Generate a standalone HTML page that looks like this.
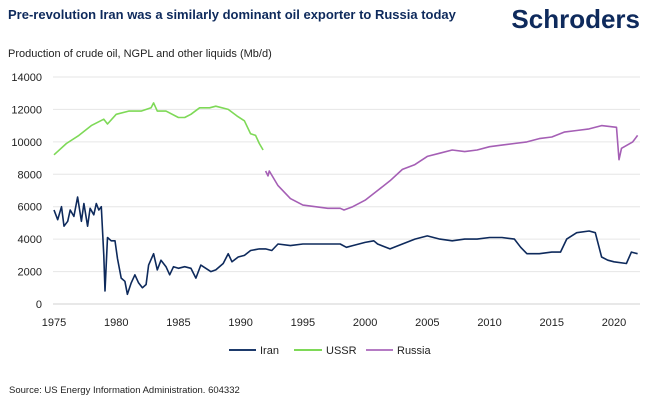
<!DOCTYPE html>
<html><head><meta charset="utf-8"><style>
body{margin:0;background:#fff;width:656px;height:406px;overflow:hidden;font-family:"Liberation Sans",sans-serif}
svg{display:block}
</style></head><body>
<svg width="656" height="406">
<text x="8" y="19" font-size="13" font-weight="bold" fill="#0e2a5c">Pre-revolution Iran was a similarly dominant oil exporter to Russia today</text>
<text x="640" y="28" text-anchor="end" font-size="26" font-weight="bold" fill="#0e2a5c">Schroders</text>
<text x="8" y="57" font-size="11" fill="#222">Production of crude oil, NGPL and other liquids (Mb/d)</text>
<g id="grid"></g><g id="yt"></g><g id="xt"></g><g id="series"></g>
<g>
<line x1="229" y1="350" x2="256" y2="350" stroke="#1d3a6b" stroke-width="2"/>
<text x="260" y="354" font-size="11" fill="#222">Iran</text>
<line x1="294" y1="350" x2="322" y2="350" stroke="#7ed957" stroke-width="2"/>
<text x="326" y="354" font-size="11" fill="#222">USSR</text>
<line x1="366" y1="350" x2="393" y2="350" stroke="#b57bc4" stroke-width="2"/>
<text x="397" y="354" font-size="11" fill="#222">Russia</text>
</g>
<text x="9" y="393" font-size="9.5" fill="#222">Source: US Energy Information Administration. 604332</text>
</svg>
<script>
const yTicks=[0,2000,4000,6000,8000,10000,12000,14000];
const xTicks=[1975,1980,1985,1990,1995,2000,2005,2010,2015,2020];
const iranYears=[1975,1975.3,1975.6,1975.8,1976.1,1976.3,1976.6,1976.9,1977.2,1977.4,1977.7,1977.9,1978.2,1978.4,1978.6,1978.8,1979.0,1979.1,1979.3,1979.6,1979.9,1980.1,1980.4,1980.7,1980.9,1981.2,1981.5,1981.8,1982.1,1982.4,1982.6,1983.0,1983.3,1983.6,1984.0,1984.3,1984.6,1985.0,1985.5,1986.0,1986.4,1986.8,1987.2,1987.6,1988.0,1988.6,1989.0,1989.3,1989.8,1990.3,1990.8,1991.5,1992.0,1992.5,1993.0,1994,1995,1996,1997,1998,1998.5,1999,2000,2000.7,2001,2002,2003,2004,2005,2006,2007,2008,2009,2010,2011,2012,2012.5,2013,2014,2015,2015.7,2016.2,2017,2018,2018.5,2019,2019.5,2020,2021,2021.4,2021.9];
const iranValues=[5800,5200,6000,4800,5100,5800,5400,6600,5100,6200,4800,5900,5500,6200,5800,6000,3000,800,4100,3900,3900,2800,1600,1400,600,1300,1800,1300,1000,1200,2400,3100,2100,2700,2300,1800,2300,2200,2300,2200,1600,2400,2200,2000,2100,2500,3100,2600,2900,3000,3300,3400,3400,3300,3700,3600,3700,3700,3700,3700,3500,3600,3800,3900,3700,3400,3700,4000,4200,4000,3900,4000,4000,4100,4100,4000,3500,3100,3100,3200,3200,4000,4400,4500,4400,2900,2700,2600,2500,3200,3100];
const ussrYears=[1975,1976,1977,1978,1979,1979.3,1980,1981,1982,1982.8,1983.0,1983.3,1984,1985,1985.5,1986,1986.7,1987.5,1988,1989,1989.7,1990.3,1990.8,1991.2,1991.5,1991.8];
const ussrValues=[9200,9900,10400,11000,11400,11100,11700,11900,11900,12100,12400,11900,11900,11500,11500,11700,12100,12100,12200,12000,11600,11300,10500,10400,9900,9500];
const russiaYears=[1992,1992.2,1992.3,1993,1994,1995,1996,1997,1998,1998.3,1999,2000,2001,2002,2003,2004,2005,2006,2007,2008,2009,2010,2011,2012,2013,2014,2015,2016,2017,2018,2019,2020.2,2020.4,2020.6,2021.5,2021.9];
const russiaValues=[8200,7900,8200,7300,6500,6100,6000,5900,5900,5800,6000,6400,7000,7600,8300,8600,9100,9300,9500,9400,9500,9700,9800,9900,10000,10200,10300,10600,10700,10800,11000,10900,8900,9600,10000,10400];
const X=y=>54+(y-1975)*(614-54)/45;
const Y=v=>304-v*(304-77)/14000;
const NS="http://www.w3.org/2000/svg";
function mk(t,a,p){const e=document.createElementNS(NS,t);for(const k in a)e.setAttribute(k,a[k]);p.appendChild(e);return e;}
const grid=document.getElementById('grid'),yt=document.getElementById('yt'),xt=document.getElementById('xt'),ser=document.getElementById('series');
yTicks.forEach(v=>{
const l=mk('line',{x1:53,x2:640,y1:Y(v),y2:Y(v),stroke:v===0?'#d0d0d0':'#e6e6e6','stroke-width':1},grid);


const t=mk('text',{x:42,y:Y(v)+4,'text-anchor':'end','font-size':11,fill:'#222'},yt);t.textContent=v;


});
xTicks.forEach(v=>{
const t=mk('text',{x:X(v),y:326,'text-anchor':'middle','font-size':11,fill:'#222'},xt);t.textContent=v;


});
function line(xs,vs,c,n){
const p=mk('path',{d:xs.map((x,i)=>(i?'L':'M')+X(x).toFixed(1)+','+Y(vs[i]).toFixed(1)).join(''),fill:'none',stroke:c,'stroke-width':1.6,'stroke-linejoin':'round'},ser);


}
line(ussrYears,ussrValues,'#7ed957','ussr-line');
line(russiaYears,russiaValues,'#a55fb5','russia-line');
line(iranYears,iranValues,'#0e2a5c','iran-line');
</script>
</body></html>
